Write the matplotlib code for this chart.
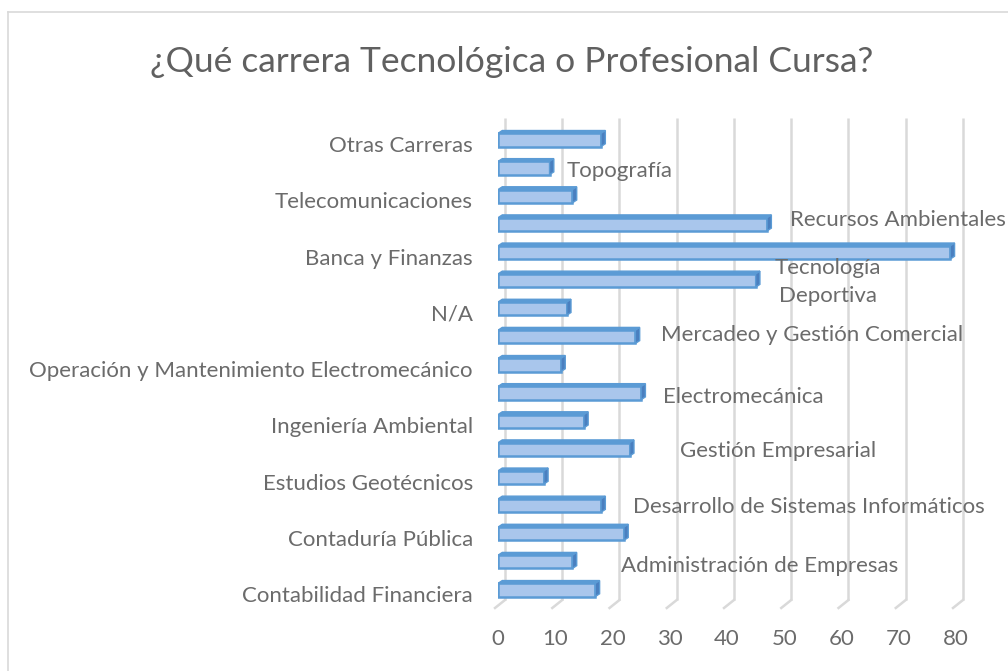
import numpy as np
import matplotlib.pyplot as plt
from matplotlib.patches import Polygon
from matplotlib.lines import Line2D

plt.rcParams['font.family'] = ['Lato', 'DejaVu Sans']

title = "¿Qué carrera Tecnológica o Profesional Cursa?"

# categories from bottom to top
categories = [
    "Contabilidad Financiera",
    "Administración de Empresas",
    "Contaduría Pública",
    "Desarrollo de Sistemas Informáticos",
    "Estudios Geotécnicos",
    "Gestión Empresarial",
    "Ingeniería Ambiental",
    "Electromecánica",
    "Operación y Mantenimiento Electromecánico",
    "Mercadeo y Gestión Comercial",
    "N/A",
    "Tecnología\nDeportiva",
    "Banca y Finanzas",
    "Recursos Ambientales",
    "Telecomunicaciones",
    "Topografía",
    "Otras Carreras",
]
values = [17, 13, 22, 18, 8, 23, 15, 25, 11, 24, 12, 45, 79, 47, 13, 9, 18]
x_ticks = [0, 10, 20, 30, 40, 50, 60, 70, 80]

# where Excel dropped the skipped category names inside the plot
inner_x = {1: 21.5, 3: 23.6, 5: 31.8, 7: 28.8, 9: 28.5, 11: 57.6, 13: 51.0, 15: 12.0}
inner_dy = {1: -0.15, 3: -0.05, 5: -0.06, 7: -0.14, 9: 0.07, 11: -0.05, 13: 0.16, 15: -0.1}

text_color = "#6b6b6b"
grid_color = "#d9d9d9"
face = "#a9c6ec"
edge = "#5b9bd5"
side = "#4a7fbf"
fs = 16

fig = plt.figure(figsize=(10.08, 6.71), dpi=100)
W, H = 1008, 671

# chart frame (only left and top edges are inside the picture)
fig.add_artist(Line2D([8 / W, 8 / W], [0, 1 - 12 / H], color=grid_color, lw=1.2))
fig.add_artist(Line2D([8 / W, 1], [1 - 12 / H, 1 - 12 / H], color=grid_color, lw=1.2))

fig.text(512 / W, 1 - 62 / H, title, ha="center", va="center",
         fontsize=25.5, color="#606060")

ax = fig.add_axes([498 / W, (H - 615) / H, (956 - 498) / W, (615 - 118) / H])
ax.set_xlim(0, 80)
ax.set_ylim(-0.89, 16.78)
for s in ax.spines.values():
    s.set_visible(False)
ax.set_yticks([])
ax.set_xticks(x_ticks)
ax.set_xticklabels([str(t) for t in x_ticks], fontsize=fs, color=text_color)
ax.tick_params(axis="x", length=0, pad=10)

# back wall gridlines with the floor edge
for t in x_ticks:
    ax.plot([t + 1.2, t + 1.2], [-0.36, 16.78], color=grid_color, lw=1.8,
            zorder=1, clip_on=False, solid_capstyle="butt")
    ax.plot([t - 0.52, t + 1.2], [-0.64, -0.36], color=grid_color, lw=1.8,
            zorder=1, clip_on=False)

y = np.arange(len(categories))
h = 0.47
dx, dy = 0.75, 0.1
ax.barh(y, values, height=h, color=face, edgecolor=edge, lw=1.8, zorder=3)
for yi, v in zip(y, values):
    top = [(0, yi + h / 2), (dx, yi + h / 2 + dy), (v + dx, yi + h / 2 + dy), (v, yi + h / 2)]
    rside = [(v, yi - h / 2), (v + dx, yi - h / 2 + dy), (v + dx, yi + h / 2 + dy), (v, yi + h / 2)]
    ax.add_patch(Polygon(top, closed=True, facecolor=edge, edgecolor=edge, lw=1, zorder=4))
    ax.add_patch(Polygon(rside, closed=True, facecolor=side, edgecolor=edge, lw=1, zorder=4))

# category names: every other one on the axis, the rest float in the plot
for i, name in enumerate(categories):
    if i % 2 == 0:
        ax.text(-4.4, i - 0.22, name, ha="right", va="center", fontsize=fs,
                color=text_color, clip_on=False)
    else:
        ha = "center" if "\n" in name else "left"
        ax.text(inner_x[i], i + inner_dy[i], name, ha=ha, va="center", fontsize=fs,
                color=text_color, clip_on=False, linespacing=1.45)

fig.savefig("out.png", dpi=100)
